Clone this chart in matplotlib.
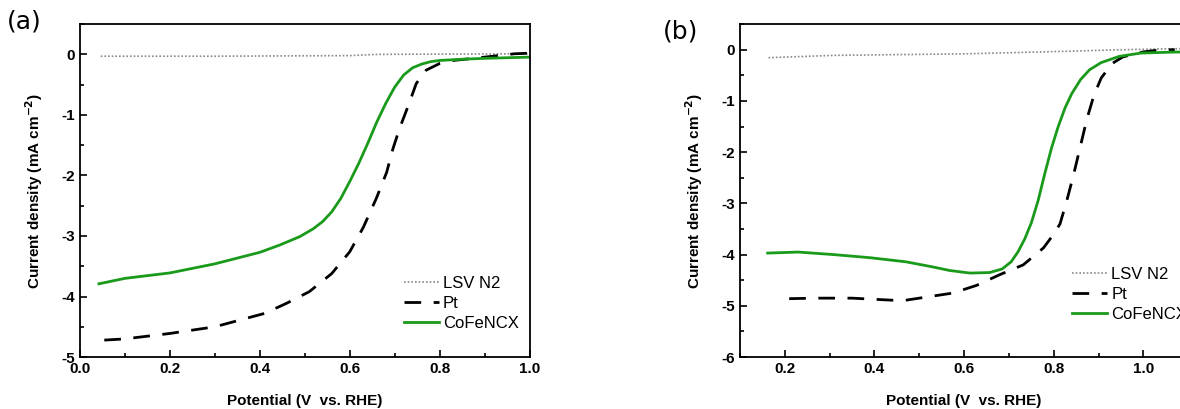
import matplotlib
matplotlib.use("Agg")
import matplotlib.pyplot as plt
from matplotlib.ticker import MultipleLocator

plt.rcParams['font.family'] = ['Liberation Sans', 'DejaVu Sans']
plt.rcParams['axes.unicode_minus'] = False

# ---- panel (a) data ----
a_n2_x = [0.046, 0.30, 0.60, 0.66, 0.80, 1.0]
a_n2_y = [-0.03, -0.03, -0.02, 0.0, 0.005, 0.01]

a_pt_x = [0.054, 0.10, 0.20, 0.30, 0.41, 0.46, 0.51, 0.56, 0.60, 0.63, 0.659,
          0.682, 0.696, 0.711, 0.73, 0.748, 0.77, 0.80, 0.83, 0.87, 0.93,
          0.966, 1.0]
a_pt_y = [-4.72, -4.70, -4.61, -4.50, -4.28, -4.11, -3.92, -3.62, -3.26, -2.86,
          -2.38, -1.95, -1.56, -1.22, -0.85, -0.48, -0.26, -0.15, -0.10, -0.07,
          -0.02, 0.01, 0.02]

a_co_x = [0.042, 0.10, 0.20, 0.30, 0.40, 0.444, 0.489, 0.519, 0.54, 0.56,
          0.58, 0.60, 0.62, 0.64, 0.66, 0.68, 0.70, 0.72, 0.74, 0.76, 0.78,
          0.80, 0.85, 0.90, 1.0]
a_co_y = [-3.79, -3.70, -3.61, -3.46, -3.27, -3.15, -3.01, -2.88, -2.76, -2.60,
          -2.38, -2.10, -1.80, -1.47, -1.12, -0.81, -0.54, -0.34, -0.22, -0.16,
          -0.12, -0.10, -0.08, -0.065, -0.045]

# ---- panel (b) data ----
b_n2_x = [0.164, 0.31, 0.60, 0.83, 0.95, 1.07, 1.10]
b_n2_y = [-0.155, -0.11, -0.08, -0.03, 0.0, 0.02, 0.02]

b_pt_x = [0.21, 0.27, 0.35, 0.44, 0.47, 0.53, 0.568, 0.60, 0.628, 0.68, 0.732,
          0.777, 0.80, 0.814, 0.829, 0.844, 0.859, 0.874, 0.89, 0.906, 0.93,
          0.954, 0.998, 1.04, 1.07]
b_pt_y = [-4.86, -4.85, -4.85, -4.89, -4.89, -4.81, -4.76, -4.68, -4.60, -4.39,
          -4.20, -3.87, -3.60, -3.40, -2.95, -2.45, -1.90, -1.35, -0.88, -0.55,
          -0.27, -0.14, -0.045, 0.0, 0.0]

b_co_x = [0.162, 0.23, 0.31, 0.39, 0.47, 0.53, 0.568, 0.613, 0.657, 0.685,
          0.705, 0.72, 0.735, 0.75, 0.765, 0.78, 0.795, 0.81, 0.825, 0.84,
          0.86, 0.88, 0.906, 0.946, 0.994, 1.07, 1.10]
b_co_y = [-3.97, -3.95, -4.00, -4.06, -4.14, -4.24, -4.31, -4.36, -4.35, -4.28,
          -4.14, -3.95, -3.70, -3.38, -2.95, -2.42, -1.92, -1.50, -1.14, -0.86,
          -0.58, -0.39, -0.25, -0.13, -0.065, -0.045, -0.045]

labels = ["LSV N2", "Pt", "CoFeNCX"]
green = "#1a9a1a"

fig = plt.figure(figsize=(11.8, 4.09), dpi=100)
ax_a = fig.add_axes([0.0678, 0.127, 0.381, 0.814])
ax_b = fig.add_axes([0.627, 0.127, 0.380, 0.814])


def style(ax, xlim, ylim, xticks):
    ax.set_xlim(*xlim)
    ax.set_ylim(*ylim)
    ax.set_xticks(xticks)
    ax.xaxis.set_minor_locator(MultipleLocator(0.1))
    ax.yaxis.set_major_locator(MultipleLocator(1))
    ax.yaxis.set_minor_locator(MultipleLocator(0.5))
    ax.tick_params(which="both", direction="in", width=1.2, labelsize=11)
    ax.tick_params(which="major", length=5)
    ax.tick_params(which="minor", length=3)
    for lab in ax.get_xticklabels() + ax.get_yticklabels():
        lab.set_fontweight("bold")
    for s in ax.spines.values():
        s.set_linewidth(1.3)
    ax.set_xlabel("Potential (V  vs. RHE)", fontsize=11, fontweight="bold",
                  labelpad=13)
    ax.set_ylabel("Current density (mA cm$^{\\mathbf{-2}}$)", fontsize=11,
                  fontweight="bold", labelpad=12)


for ax, n2x, n2y, ptx, pty, cox, coy in [
        (ax_a, a_n2_x, a_n2_y, a_pt_x, a_pt_y, a_co_x, a_co_y),
        (ax_b, b_n2_x, b_n2_y, b_pt_x, b_pt_y, b_co_x, b_co_y)]:
    ax.plot(n2x, n2y, color="#888888", ls=(0, (1, 1.2)), lw=1.2, label=labels[0])
    ax.plot(ptx, pty, color="black", ls=(0, (6, 4.5)), lw=2, label=labels[1])
    ax.plot(cox, coy, color=green, lw=2, label=labels[2])

style(ax_a, (0.0, 1.0), (-5, 0.5), [0.0, 0.2, 0.4, 0.6, 0.8, 1.0])
style(ax_b, (0.1, 1.1), (-6, 0.5), [0.2, 0.4, 0.6, 0.8, 1.0])

leg_kw = dict(loc="upper left", frameon=False, fontsize=12, handlelength=2.1,
              handletextpad=0.25, labelspacing=0.3, borderpad=0,
              borderaxespad=0)
ax_a.legend(bbox_to_anchor=(0.72, 0.244), **leg_kw)
ax_b.legend(bbox_to_anchor=(0.741, 0.27), **leg_kw)

fig.text(0.006, 0.93, "(a)", fontsize=18, family="DejaVu Sans")
fig.text(0.562, 0.905, "(b)", fontsize=18, family="DejaVu Sans")

fig.savefig("out.png", dpi=100)
